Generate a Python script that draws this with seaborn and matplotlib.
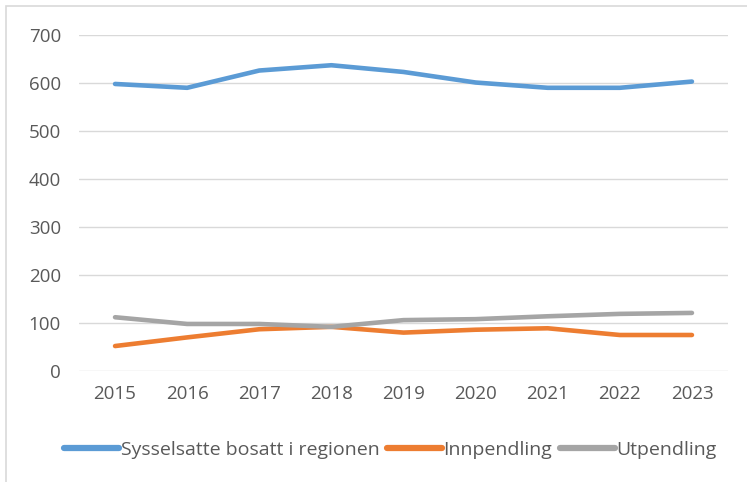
import numpy as np
import pandas as pd
import matplotlib.pyplot as plt
import seaborn as sns
from matplotlib.patches import Rectangle

years = ["2015", "2016", "2017", "2018", "2019", "2020", "2021", "2022", "2023"]
bosatt = [598, 590, 626, 637, 623, 601, 590, 590, 603]
innpendling = [52, 70, 87, 92, 80, 86, 89, 75, 75]
utpendling = [112, 98, 98, 92, 106, 108, 114, 119, 121]

series_names = ["Sysselsatte bosatt i regionen", "Innpendling", "Utpendling"]
colors = ["#5B9BD5", "#ED7D31", "#A5A5A5"]

df = pd.DataFrame({"År": years, series_names[0]: bosatt,
                   series_names[1]: innpendling, series_names[2]: utpendling})
long = df.melt(id_vars="År", var_name="Serie", value_name="Verdi")

sns.set_theme(style="white")
plt.rcParams["font.family"] = ["Open Sans", "DejaVu Sans"]

fig = plt.figure(figsize=(7.47, 4.82), dpi=100)
ax = fig.add_axes([79 / 747, 1 - 371 / 482, (728 - 79) / 747, (371 - 35) / 482])

# Excel-style chart frame
fig.patches.append(Rectangle((6 / 747, -0.1), 1.2, 1 - 6 / 482 + 0.1, transform=fig.transFigure,
                             fill=False, edgecolor="#D9D9D9", linewidth=1.2))

sns.lineplot(data=long, x="År", y="Verdi", hue="Serie", palette=colors,
             hue_order=series_names, linewidth=3.3, ax=ax, sort=False)
for line in ax.lines:
    line.set_solid_capstyle("round")
    line.set_solid_joinstyle("round")

ax.set_ylim(0, 700)
ax.set_xlim(-0.5, len(years) - 0.5)
ax.set_yticks(range(0, 701, 100))
ax.grid(axis="y", color="#D9D9D9", linewidth=1)
ax.set_axisbelow(True)
for s in ax.spines.values():
    s.set_visible(False)
ax.set_xlabel("")
ax.set_ylabel("")
ax.tick_params(axis="both", length=0, labelsize=13.5, labelcolor="#595959")
ax.tick_params(axis="y", pad=13)
ax.tick_params(axis="x", pad=10)

leg = ax.legend(loc="center", bbox_to_anchor=(0.48, -0.235), ncol=3, frameon=False,
                fontsize=14, handlelength=2.8, handletextpad=0.1, columnspacing=0.4,
                labelcolor="#595959")
for h in leg.legend_handles:
    h.set_linewidth(4.5)
    h.set_solid_capstyle("round")

fig.savefig("out.png", dpi=100)
